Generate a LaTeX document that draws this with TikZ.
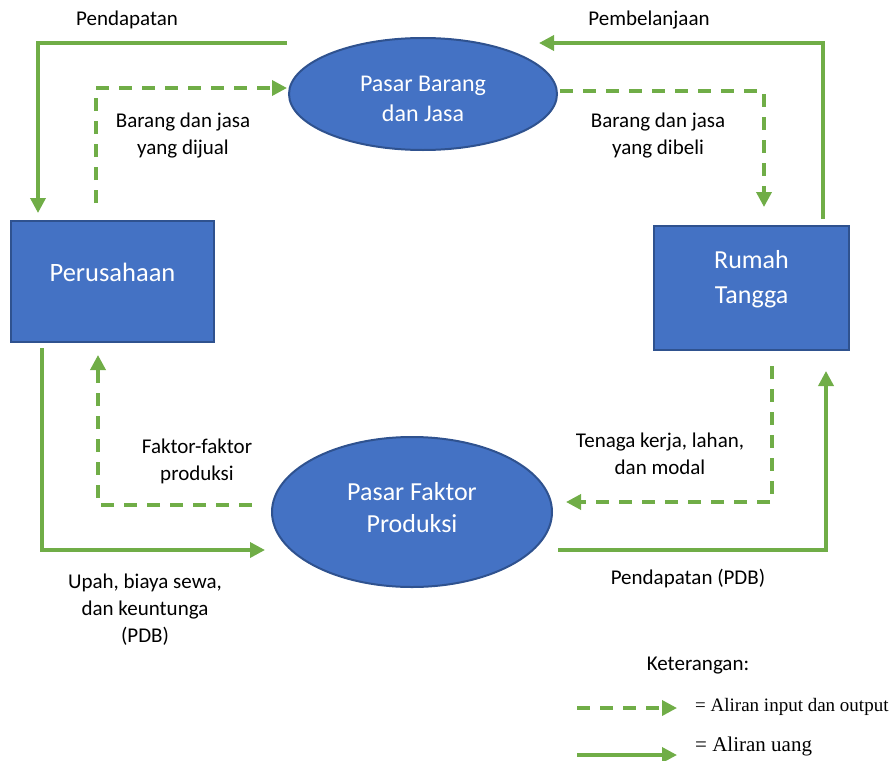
\documentclass[tikz,border=0pt]{standalone}
\usepackage{fontspec}
\setmainfont{Carlito}
\newfontfamily\legendfont{Liberation Serif}
\usetikzlibrary{arrows.meta,shapes.geometric}
\definecolor{flowgreen}{HTML}{70AD47}
\definecolor{boxblue}{HTML}{4472C4}
\definecolor{boxedge}{HTML}{2F528F}
\begin{document}
\begin{tikzpicture}[x=1pt,y=-1pt,
  money/.style={draw=flowgreen, line width=3.5pt, -{Triangle[length=15pt,width=15pt]}},
  goods/.style={money, dash pattern=on 13pt off 10pt},
  agent/.style={draw=boxedge, fill=boxblue, line width=2pt, inner sep=0pt},
  market/.style={ellipse, draw=boxedge, fill=boxblue, line width=2pt, inner sep=0pt},
  wtext/.style={text=white, align=center, inner sep=0pt},
  lbl/.style={align=center, inner sep=0pt, font=\fontsize{21}{27}\selectfont}
]
\useasboundingbox (0,0) rectangle (893,760);

% shapes
\node[market, minimum width=268pt, minimum height=112pt] (pbj) at (423,94) {};
\node[market, minimum width=280pt, minimum height=150pt] (pfp) at (412,512) {};
\node[agent, minimum width=203pt, minimum height=121pt] (per) at (112.5,281.5) {};
\node[agent, minimum width=195pt, minimum height=124pt] (rt) at (751.5,288) {};
% shape texts
\node[wtext, font=\fontsize{24}{30}\selectfont] (pbjt) at (423,99) {Pasar Barang\\dan Jasa};
\node[wtext, font=\fontsize{26}{32}\selectfont] (pfpt) at (412,508) {Pasar Faktor\\Produksi};
\node[wtext, font=\fontsize{26.5}{30}\selectfont] (pert) at (112.5,272) {Perusahaan};
\node[wtext, font=\fontsize{26}{35}\selectfont] (rtt) at (751.5,279) {Rumah\\Tangga};

% connector endpoints
\coordinate (a1s) at (287,43);  \coordinate (a1e) at (38,213);
\coordinate (a2s) at (96,203);  \coordinate (a2e) at (287,88);
\coordinate (a3s) at (823,219); \coordinate (a3e) at (539,43);
\coordinate (a4s) at (560,91);  \coordinate (a4e) at (764,207);
\coordinate (a5s) at (42,348);  \coordinate (a5e) at (265,550);
\coordinate (a6s) at (252,505); \coordinate (a6e) at (98,355);
\coordinate (a7s) at (772,366); \coordinate (a7e) at (566,502);
\coordinate (a8s) at (558,550); \coordinate (a8e) at (826,371);

% money flows
\draw[money] (a1s) -| (a1e);
\draw[money] (a3s) |- (a3e);
\draw[money] (a5s) |- (a5e);
\draw[money] (a8s) -| (a8e);
% goods / factor flows
\draw[goods] (a2s) |- (a2e);
\draw[goods] (a4s) -| (a4e);
\draw[goods] (a6s) -| (a6e);
\draw[goods] (a7s) |- (a7e);

% labels
\node[lbl] (l1) at (127,20) {Pendapatan};
\node[lbl] (l2) at (183,136) {Barang dan jasa\\yang dijual};
\node[lbl] (l3) at (649,20) {Pembelanjaan};
\node[lbl] (l4) at (658,136) {Barang dan jasa\\yang dibeli};
\node[lbl] (l5) at (145,610) {Upah, biaya sewa,\\dan keuntunga\\(PDB)};
\node[lbl] (l6) at (197,461) {Faktor-faktor\\produksi};
\node[lbl] (l7) at (660,454) {Tenaga kerja, lahan,\\dan modal};
\node[lbl] (l8) at (688,579) {Pendapatan (PDB)};

% legend
\node[lbl] (ket) at (698,666) {Keterangan:};
\coordinate (g1s) at (577,708); \coordinate (g1e) at (677,708);
\coordinate (g2s) at (577,755); \coordinate (g2e) at (677,755);
\draw[goods] (g1s) -- (g1e);
\draw[money] (g2s) -- (g2e);
\node[anchor=west, inner sep=0pt, font=\legendfont\fontsize{19}{22}\selectfont] (t1) at (695,707) {= Aliran input dan output};
\node[anchor=west, inner sep=0pt, font=\legendfont\fontsize{21}{24}\selectfont] (t2) at (695,746) {= Aliran uang};
\end{tikzpicture}
\end{document}
